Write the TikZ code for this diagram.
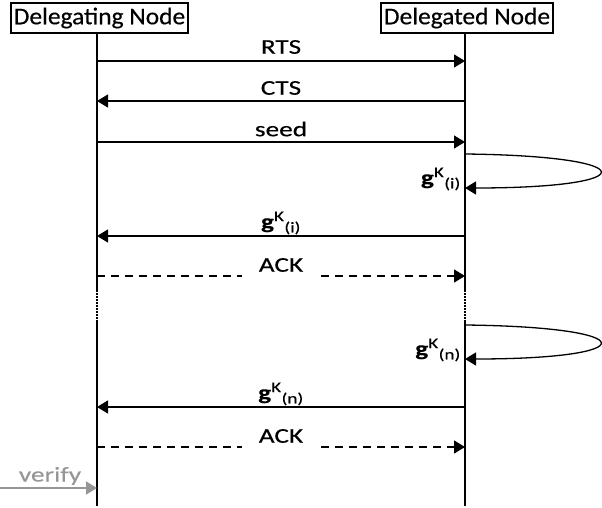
\documentclass[tikz,border=0pt]{standalone}
\usepackage{fontspec}
\setmainfont{Carlito}
\newfontfamily\hdrfont[FakeStretch=1.06,FakeBold=0.4]{Carlito}
\newfontfamily\lblfont[FakeStretch=1.3,FakeBold=0.4]{Carlito}
\usetikzlibrary{arrows.meta}
\definecolor{vgray}{RGB}{150,150,150}
\begin{document}
\begin{tikzpicture}[x=1pt,y=-1pt,
  hdr/.style={draw, line width=2pt, font=\hdrfont\fontsize{24}{26}\selectfont, inner xsep=3pt, inner ysep=0pt, minimum height=30pt, minimum width=#1, anchor=center},
  msg/.style={line width=1.3pt, -{Triangle[length=11pt,width=13pt]}},
  lbl/.style={font=\lblfont\fontsize{21}{23}\selectfont, inner sep=1pt},
  life/.style={line width=1.2pt},
  gap/.style={life, dash pattern=on 1.5pt off 1.5pt},
  ackline/.style={msg, dash pattern=on 8pt off 6pt}]
\useasboundingbox (0,0) rectangle (602,508);

% headers
\node[hdr=175pt] (dn) at (99.5,18) {Delegating Node};
\node[hdr=168pt] (dd) at (467,18) {Delegated Node};

% lifeline coordinates
\coordinate (Ltop) at (97,33);
\coordinate (Rtop) at (465,33);
\coordinate (Lg1) at (97,290);  \coordinate (Lg2) at (97,322);
\coordinate (Rg1) at (465,290); \coordinate (Rg2) at (465,322);
\coordinate (Lend) at (97,506);
\coordinate (Rend) at (465,506);

\draw[life] (Ltop) -- (Lg1);
\draw[gap]  (Lg1) -- (Lg2);
\draw[life] (Lg2) -- (Lend);
\draw[life] (Rtop) -- (Rg1);
\draw[gap]  (Rg1) -- (Rg2);
\draw[life] (Rg2) -- (Rend);

% RTS
\coordinate (La) at (97,61);  \coordinate (Ra) at (465,61);
\draw[msg] (La) -- (Ra);
\node[lbl] (lrts) at (281,47) {RTS};
% CTS
\coordinate (Lb) at (97,101); \coordinate (Rb) at (465,101);
\draw[msg] (Rb) -- (Lb);
\node[lbl] (lcts) at (281,88) {CTS};
% seed
\coordinate (Lc) at (97,142); \coordinate (Rc) at (465,142);
\draw[msg] (Lc) -- (Rc);
\node[lbl] (lseed) at (281,129) {seed};

% loop 1
\coordinate (Rl1a) at (465,154); \coordinate (Rl1b) at (465,188);
\draw[msg] (Rl1a) .. controls (645,156) and (645,188) .. (Rl1b);
\node[lbl, anchor=east] (lgi) at (462,179) {\textbf{g}\textsuperscript{K}\textsubscript{(i)}};

% g_i
\coordinate (Ld) at (97,236); \coordinate (Rd) at (465,236);
\draw[msg] (Rd) -- (Ld);
\node[lbl] (lgi2) at (281,223) {\textbf{g}\textsuperscript{K}\textsubscript{(i)}};

% ACK 1
\coordinate (Le) at (97,276); \coordinate (Re) at (465,276);
\draw[ackline] (Le) -- (Re);
\node[lbl, fill=white, minimum width=78pt, minimum height=24pt] (lack1) at (281,265) {ACK};

% loop 2
\coordinate (Rl2a) at (465,325); \coordinate (Rl2b) at (465,359);
\draw[msg] (Rl2a) .. controls (645,327) and (645,359) .. (Rl2b);
\node[lbl, anchor=east] (lgn) at (462,350) {\textbf{g}\textsuperscript{K}\textsubscript{(n)}};

% g_n
\coordinate (Lf) at (97,407); \coordinate (Rf) at (465,407);
\draw[msg] (Rf) -- (Lf);
\node[lbl] (lgn2) at (281,394) {\textbf{g}\textsuperscript{K}\textsubscript{(n)}};

% ACK 2
\coordinate (Lh) at (97,447); \coordinate (Rh) at (465,447);
\draw[ackline] (Lh) -- (Rh);
\node[lbl, fill=white, minimum width=78pt, minimum height=24pt] (lack2) at (281,436) {ACK};

% verify
\coordinate (Vs) at (0,488); \coordinate (Ve) at (97,488);
\draw[msg, vgray] (Vs) -- (Ve);
\node[lbl, text=vgray] (lver) at (50,476) {verify};
\end{tikzpicture}
\end{document}
